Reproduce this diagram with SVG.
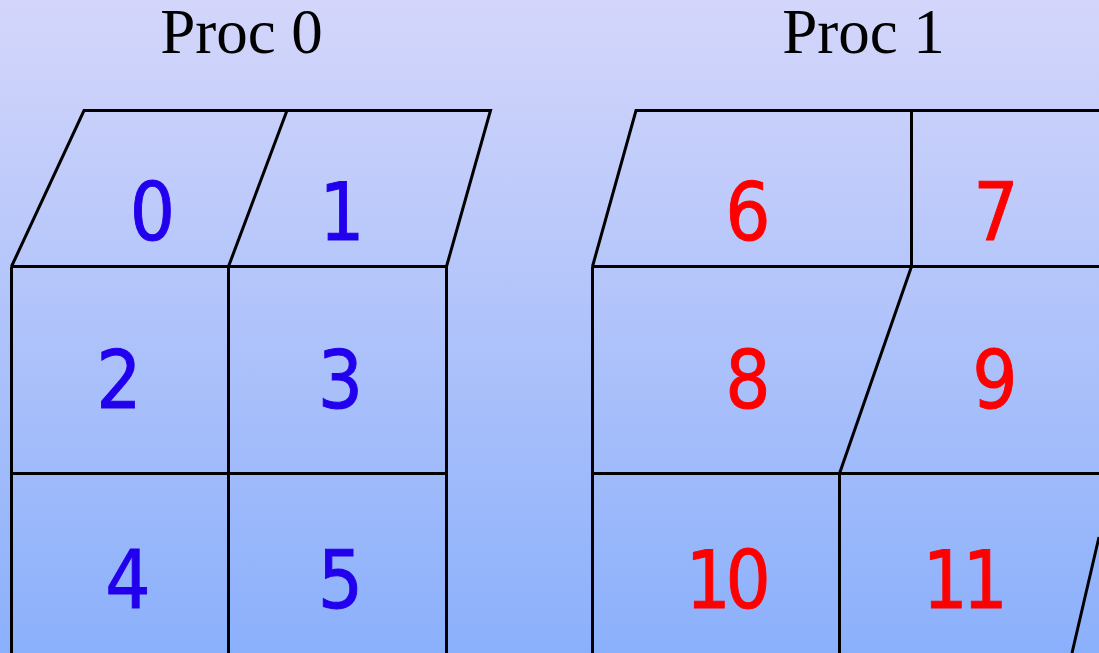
<svg xmlns="http://www.w3.org/2000/svg" width="1099" height="653" viewBox="0 0 1099 653">
<style>
.l{fill:none;stroke:#000;stroke-width:3;stroke-linejoin:miter;stroke-linecap:butt}
.t{font-family:"Liberation Serif",serif;font-size:63px;fill:#000;text-anchor:middle}
.n{font-family:"DejaVu Sans",sans-serif;font-size:81px;text-anchor:middle;stroke-width:1px}
.b{fill:#2200ee;stroke:#2200ee}.r{fill:#ff0000;stroke:#ff0000}
.d{letter-spacing:-6px}
</style>
<defs><linearGradient id="bg" x1="0" y1="0" x2="0" y2="1"><stop offset="0" stop-color="#d4d6fa"/><stop offset="1" stop-color="#8bb0fb"/></linearGradient></defs>
<rect width="1099" height="653" fill="url(#bg)"/>
<g id="connectors">
<path class="l" d="M11.500 266.500L84 110.500H490.500L446.500 266.500M287 110.500L228.500 266.500M11.500 266.500H446.500M11.500 266.500V653M228.500 266.500V653M446.500 266.500V653M11.500 473.500H446.500"/>
<path class="l" d="M592.500 266.500L636 110.500H1099M911.500 110.500V266.500M592.500 266.500H1099M592.500 266.500V653M911.500 266.500L839.500 473.500M592.500 473.500H1099M839.500 473.500V653M1099 537L1072 653"/>
</g>
<g id="proc0"><text class="t" x="241.500" y="52.500">Proc 0</text></g>
<g id="proc1"><text class="t" x="863.500" y="52.500">Proc 1</text></g>
<g id="cell0"><text class="n b" transform="translate(152.500 240) scale(.88 1)">0</text></g>
<g id="cell1"><text class="n b" transform="translate(342 240) scale(.88 1)">1</text></g>
<g id="cell2"><text class="n b" transform="translate(119 408) scale(.88 1)">2</text></g>
<g id="cell3"><text class="n b" transform="translate(340.500 408) scale(.88 1)">3</text></g>
<g id="cell4"><text class="n b" transform="translate(128 608) scale(.88 1)">4</text></g>
<g id="cell5"><text class="n b" transform="translate(340.500 608) scale(.88 1)">5</text></g>
<g id="cell6"><text class="n r" transform="translate(748 240) scale(.88 1)">6</text></g>
<g id="cell7"><text class="n r" transform="translate(996 240) scale(.88 1)">7</text></g>
<g id="cell8"><text class="n r" transform="translate(748 408) scale(.88 1)">8</text></g>
<g id="cell9"><text class="n r" transform="translate(995 408) scale(.88 1)">9</text></g>
<g id="cell10"><text class="n r d" transform="translate(725.500 608) scale(.88 1)">10</text></g>
<g id="cell11"><text class="n r d" transform="translate(962.500 608) scale(.88 1)">11</text></g>
</svg>
